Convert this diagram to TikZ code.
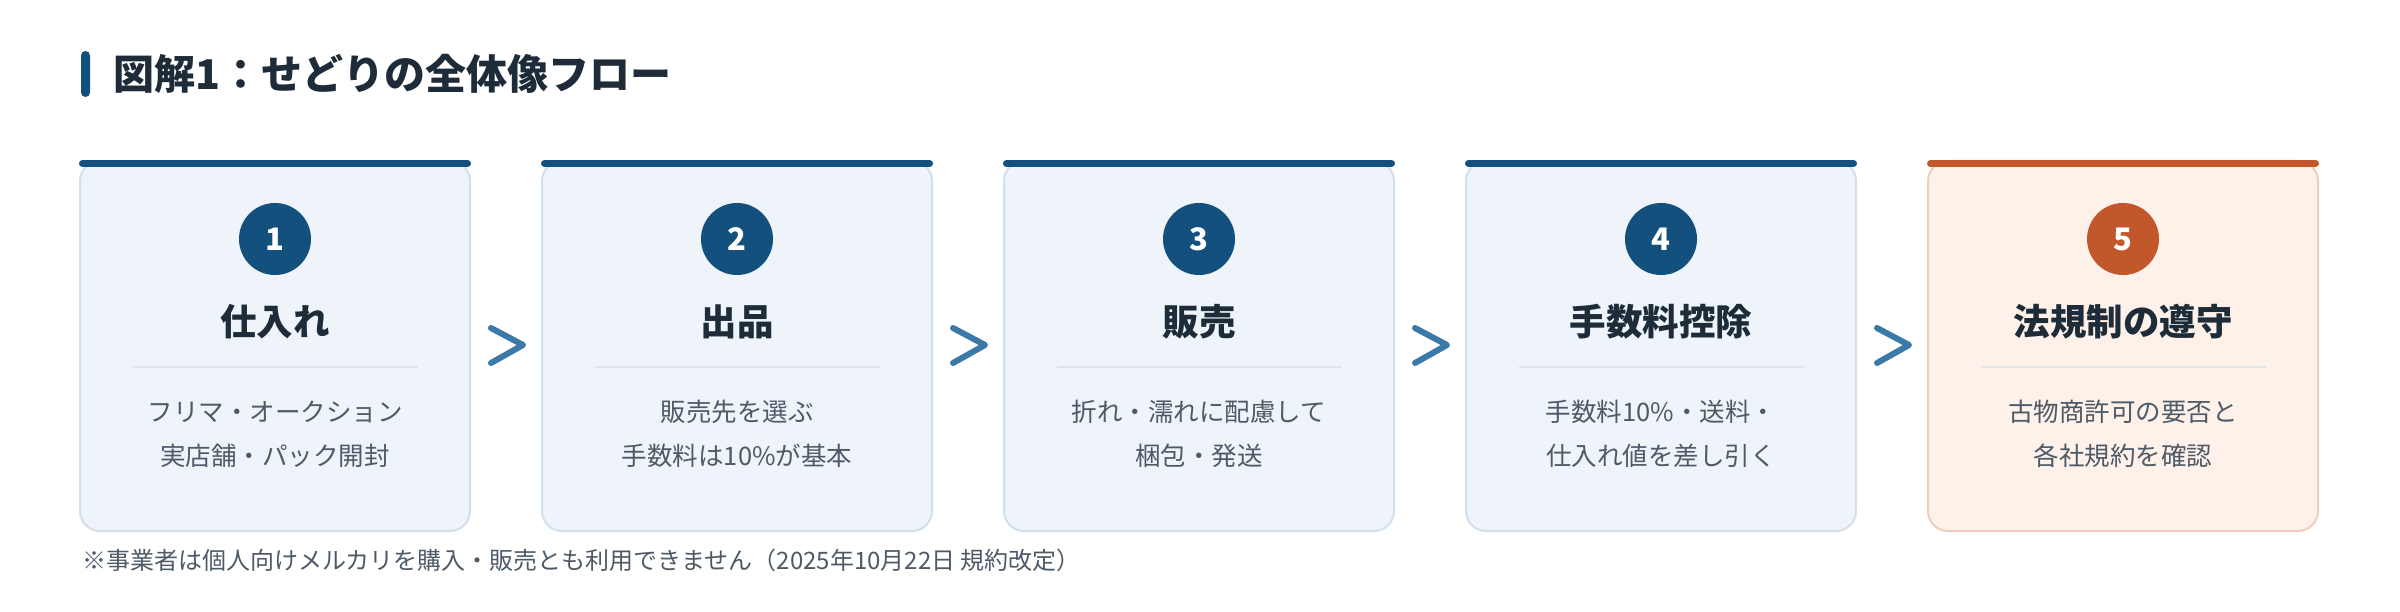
\documentclass[tikz,border=0pt]{standalone}
\usepackage{fontspec}
\setmainfont{Noto Sans CJK JP}
\usetikzlibrary{calc}
\definecolor{navy}{HTML}{14507D}
\definecolor{rust}{HTML}{C1572A}
\definecolor{chevcol}{HTML}{3B79A9}
\definecolor{cardfill}{HTML}{EEF4F9}
\definecolor{cardline}{HTML}{D3E0EB}
\definecolor{warmfill}{HTML}{FDF1EA}
\definecolor{warmline}{HTML}{EDCFBD}
\definecolor{titlecol}{HTML}{1E2B38}
\definecolor{desccol}{HTML}{4E5A67}
\definecolor{sepcol}{HTML}{DDE4EA}
\tikzset{
  card/.style={draw=#1line, fill=#1fill, line width=2pt, rounded corners=20pt,
    minimum width=390pt, minimum height=370pt, inner sep=0pt},
  topbar/.style={line width=7pt, line cap=round},
  numdot/.style={circle, minimum size=72pt, inner sep=0pt, text=white,
    font=\fontsize{31}{31}\selectfont\bfseries},
  cardtitle/.style={text=titlecol, font=\fontsize{36.5}{36.5}\selectfont\bfseries, inner sep=0pt},
  carddesc/.style={text=desccol, align=center, inner sep=0pt,
    font=\fontsize{25.5}{44}\selectfont},
  sepline/.style={draw=sepcol, line width=2pt},
  chev/.style={draw=chevcol, line width=6pt, line cap=round, line join=round},
}
\newcommand{\stepcard}[7]{%
  % #1 index, #2 left x, #3 number, #4 title, #5 desc, #6 palette, #7 accent
  \node[card=#6] (card#1) at (#2+195,346) {};
  \draw[topbar, draw=#7] ($(card#1.north west)+(3.5,3.5)$) -- ($(card#1.north east)+(-3.5,3.5)$);
  \node[numdot, fill=#7] (num#1) at (#2+195,239) {#3};
  \node[cardtitle] (title#1) at (#2+195,322) {#4};
  \coordinate (sepL#1) at (#2+53,367);
  \coordinate (sepR#1) at (#2+338,367);
  \draw[sepline] (sepL#1) -- (sepR#1);
  \node[carddesc] (desc#1) at (#2+195,434) {#5};
}
\begin{document}
\begin{tikzpicture}[x=1pt,y=-1pt]
\useasboundingbox[fill=white] (0,0) rectangle (2400,612);
% heading
\node[fill=navy, rounded corners=4.5pt, minimum width=9pt, minimum height=46pt, inner sep=0pt] (hbar) at (85.5,74) {};
\node[anchor=west, inner sep=0pt, text=titlecol, font=\fontsize{41}{41}\selectfont\bfseries] (heading) at (113,74) {図解1：せどりの全体像フロー};
% cards
\stepcard{1}{80}{1}{仕入れ}{フリマ・オークション\\実店舗・パック開封}{card}{navy}
\stepcard{2}{542}{2}{出品}{販売先を選ぶ\\手数料は10\%が基本}{card}{navy}
\stepcard{3}{1004}{3}{販売}{折れ・濡れに配慮して\\梱包・発送}{card}{navy}
\stepcard{4}{1466}{4}{手数料控除}{手数料10\%・送料・\\仕入れ値を差し引く}{card}{navy}
\stepcard{5}{1928}{5}{法規制の遵守}{古物商許可の要否と\\各社規約を確認}{warm}{rust}
% chevrons
\foreach \a in {1,2,3,4}{
  \draw[chev] ($(card\a.east)+(20,-18)$) -- ($(card\a.east)+(52,-1)$) -- ($(card\a.east)+(20,17)$);
}
% footnote
\node[anchor=west, inner sep=0pt, text=desccol, font=\fontsize{24}{24}\selectfont] (foot) at (82,560) {※事業者は個人向けメルカリを購入・販売とも利用できません（2025年10月22日 規約改定）};
\end{tikzpicture}
\end{document}
